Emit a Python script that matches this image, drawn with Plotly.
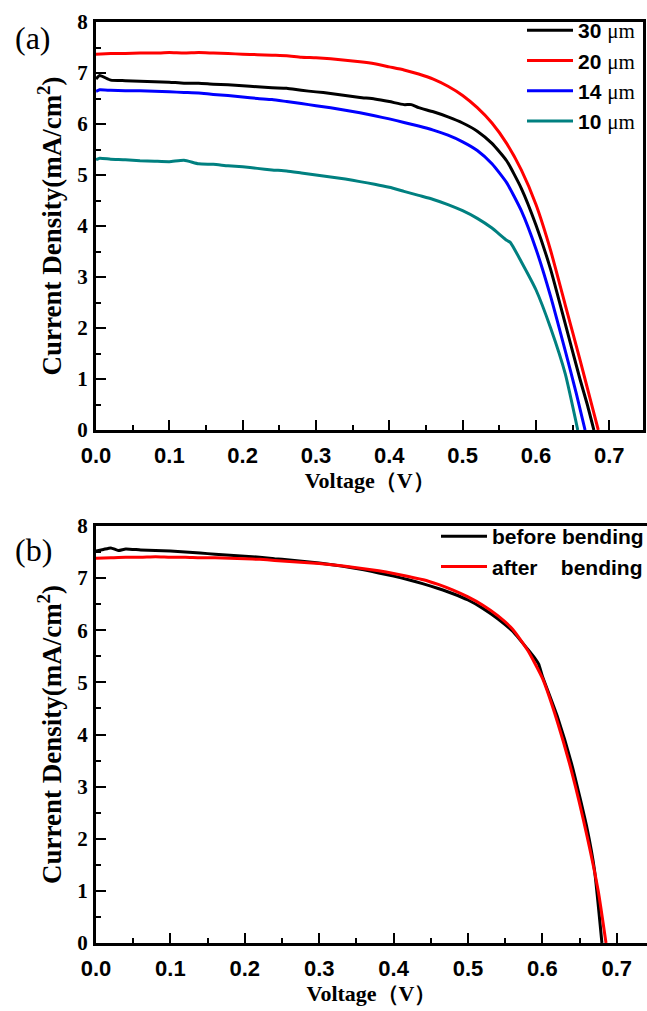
import plotly.graph_objects as go

# ---------------- panel (a): J-V curves for different thicknesses ----------------
v_30um = [0.000, 0.005, 0.02, 0.04, 0.06, 0.08, 0.10, 0.12, 0.14, 0.16, 0.18, 0.20, 0.22, 0.24,
          0.26, 0.28, 0.30, 0.32, 0.34, 0.36, 0.38, 0.40, 0.42, 0.43, 0.44, 0.46, 0.48, 0.50,
          0.52, 0.54, 0.56, 0.58, 0.60, 0.62, 0.64, 0.66, 0.67, 0.679]
j_30um = [6.88, 6.95, 6.86, 6.85, 6.84, 6.83, 6.82, 6.80, 6.80, 6.78, 6.77, 6.75, 6.73, 6.71,
          6.70, 6.66, 6.63, 6.60, 6.56, 6.52, 6.49, 6.44, 6.38, 6.38, 6.32, 6.24, 6.14, 6.02,
          5.86, 5.62, 5.28, 4.74, 4.02, 3.15, 2.08, 1.00, 0.50, 0.00]

v_20um = [0.00, 0.02, 0.04, 0.06, 0.08, 0.10, 0.12, 0.14, 0.16, 0.18, 0.20, 0.22, 0.24, 0.26,
          0.28, 0.30, 0.32, 0.34, 0.36, 0.38, 0.40, 0.42, 0.44, 0.46, 0.48, 0.50, 0.52, 0.54,
          0.56, 0.58, 0.60, 0.62, 0.64, 0.66, 0.675, 0.685]
j_20um = [7.37, 7.38, 7.38, 7.39, 7.39, 7.40, 7.39, 7.40, 7.39, 7.38, 7.37, 7.36, 7.35, 7.34,
          7.31, 7.30, 7.28, 7.25, 7.22, 7.18, 7.12, 7.06, 6.98, 6.88, 6.74, 6.56, 6.32, 6.02,
          5.62, 5.10, 4.42, 3.52, 2.45, 1.38, 0.55, 0.00]

v_14um = [0.000, 0.005, 0.02, 0.04, 0.06, 0.08, 0.10, 0.12, 0.14, 0.16, 0.18, 0.20, 0.22, 0.24,
          0.26, 0.28, 0.30, 0.32, 0.34, 0.36, 0.38, 0.40, 0.42, 0.44, 0.46, 0.48, 0.50, 0.52,
          0.54, 0.56, 0.58, 0.60, 0.62, 0.64, 0.655, 0.667]
j_14um = [6.64, 6.67, 6.66, 6.65, 6.65, 6.64, 6.63, 6.62, 6.61, 6.58, 6.56, 6.53, 6.50, 6.48,
          6.44, 6.40, 6.36, 6.32, 6.27, 6.22, 6.16, 6.10, 6.03, 5.96, 5.88, 5.78, 5.65, 5.48,
          5.22, 4.85, 4.30, 3.55, 2.62, 1.55, 0.72, 0.00]

v_10um = [0.000, 0.005, 0.02, 0.04, 0.06, 0.08, 0.10, 0.12, 0.14, 0.16, 0.18, 0.20, 0.22, 0.24,
          0.26, 0.28, 0.30, 0.32, 0.34, 0.36, 0.38, 0.40, 0.42, 0.44, 0.46, 0.48, 0.50, 0.52,
          0.54, 0.56, 0.565, 0.58, 0.60, 0.62, 0.64, 0.657]
j_10um = [5.30, 5.33, 5.31, 5.30, 5.28, 5.27, 5.26, 5.29, 5.22, 5.21, 5.18, 5.16, 5.13, 5.10,
          5.08, 5.04, 5.00, 4.96, 4.92, 4.87, 4.82, 4.76, 4.68, 4.60, 4.52, 4.42, 4.30, 4.15,
          3.96, 3.72, 3.68, 3.30, 2.75, 2.00, 1.10, 0.00]

# ---------------- panel (b): before / after bending ----------------
v_before = [0.00, 0.01, 0.02, 0.03, 0.04, 0.06, 0.08, 0.10, 0.12, 0.14, 0.16, 0.18, 0.20, 0.22,
            0.24, 0.26, 0.28, 0.30, 0.32, 0.34, 0.36, 0.38, 0.40, 0.42, 0.44, 0.46, 0.48, 0.50,
            0.52, 0.54, 0.56, 0.58, 0.59, 0.595, 0.60, 0.62, 0.64, 0.66, 0.67, 0.68]
j_before = [7.52, 7.55, 7.58, 7.53, 7.56, 7.54, 7.53, 7.52, 7.50, 7.48, 7.46, 7.44, 7.42, 7.40,
            7.37, 7.35, 7.32, 7.29, 7.25, 7.21, 7.16, 7.10, 7.04, 6.97, 6.89, 6.80, 6.70, 6.58,
            6.42, 6.22, 5.98, 5.64, 5.46, 5.35, 5.12, 4.35, 3.40, 2.20, 1.40, 0.00]

v_after = [0.00, 0.02, 0.04, 0.06, 0.08, 0.10, 0.12, 0.14, 0.16, 0.18, 0.20, 0.22, 0.24, 0.26,
           0.28, 0.30, 0.32, 0.34, 0.36, 0.38, 0.40, 0.42, 0.44, 0.46, 0.48, 0.50, 0.52, 0.54,
           0.56, 0.58, 0.60, 0.62, 0.64, 0.66, 0.675, 0.6855]
j_after = [7.38, 7.39, 7.40, 7.40, 7.41, 7.40, 7.40, 7.39, 7.39, 7.38, 7.37, 7.36, 7.34, 7.32,
           7.30, 7.28, 7.25, 7.22, 7.18, 7.14, 7.09, 7.03, 6.97, 6.88, 6.77, 6.64, 6.48, 6.28,
           6.02, 5.62, 5.08, 4.25, 3.25, 2.05, 1.00, 0.00]

x_ticks = [0.0, 0.1, 0.2, 0.3, 0.4, 0.5, 0.6, 0.7]
y_ticks = [0, 1, 2, 3, 4, 5, 6, 7, 8]

SERIF = "Liberation Serif"
SANS = "Liberation Sans"

W, H = 647, 1011
ML, MR, MT, MB = 96, 0, 22, 68
PW, PH = W - ML - MR, H - MT - MB


def px_x(x_px):
    """pixel column -> paper x"""
    return (x_px - ML) / PW


def py(y_px):
    """pixel row -> paper y"""
    return (H - MB - y_px) / PH


def mu(label):
    num, unit = label.split(" ")
    return (f"{num} <span style='font-family:{SERIF};font-weight:normal'>{unit}</span>")


fig = go.Figure()

series_a = [
    ("30 μm", v_30um, j_30um, "#000000"),
    ("20 μm", v_20um, j_20um, "#ff0000"),
    ("14 μm", v_14um, j_14um, "#0000ff"),
    ("10 μm", v_10um, j_10um, "#008080"),
]
for name, v, j, c in series_a:
    fig.add_trace(go.Scatter(
        x=v, y=j, mode="lines", name=mu(name), legend="legend",
        line=dict(color=c, width=3, shape="spline", smoothing=0.5),
        xaxis="x", yaxis="y"))

series_b = [
    ("before bending", v_before, j_before, "#000000"),
    ("after&nbsp;&nbsp;&nbsp;&nbsp;bending", v_after, j_after, "#ff0000"),
]
for name, v, j, c in series_b:
    fig.add_trace(go.Scatter(
        x=v, y=j, mode="lines", name=name, legend="legend2",
        line=dict(color=c, width=3, shape="spline", smoothing=0.5),
        xaxis="x2", yaxis="y2"))

xfont = dict(family=SANS, size=22, color="black", weight="bold")
yfont = dict(family=SERIF, size=21, color="black", weight="bold")
title_font = dict(family=SERIF, size=22, color="black", weight="bold")
ytitle_font = dict(family=SERIF, size=27, color="black", weight="bold")
legend_font = dict(family=SANS, size=21, color="black", weight="bold")

common_x = dict(
    showline=True, linewidth=3, linecolor="black", mirror=True,
    showgrid=False, zeroline=False,
    ticks="inside", ticklen=10, tickwidth=2, tickcolor="black",
    tickvals=x_ticks, tickformat=".1f", tickfont=xfont, ticklabelstandoff=4,
    minor=dict(ticks="inside", ticklen=5, tickwidth=2, tickcolor="black", dtick=0.05, tick0=0),
    title=dict(text="Voltage（V）", font=title_font, standoff=4),
)
common_y = dict(
    showline=True, linewidth=3, linecolor="black",
    showgrid=False, zeroline=False, range=[0, 8],
    ticks="inside", ticklen=10, tickwidth=2, tickcolor="black",
    tickvals=y_ticks, tickfont=yfont, ticklabelstandoff=1,
    minor=dict(ticks="inside", ticklen=5, tickwidth=2, tickcolor="black", dtick=0.5, tick0=0),
    title=dict(text="Current Density(mA/cm<sup>2</sup>)", font=ytitle_font, standoff=8),
)

fig.update_layout(
    width=W, height=H,
    margin=dict(l=ML, r=MR, t=MT, b=MB, autoexpand=False),
    paper_bgcolor="white", plot_bgcolor="white",
    xaxis=dict(common_x, domain=[0, px_x(643.3)], range=[0, 0.7464], anchor="y"),
    yaxis=dict(common_y, domain=[py(430), 1.0], anchor="x", mirror=True),
    xaxis2=dict(common_x, domain=[0, 1.0], range=[0, PW / 744.0], anchor="y2"),
    yaxis2=dict(common_y, domain=[0.0, py(526)], anchor="x2", mirror=False),
    legend=dict(
        x=px_x(522), y=py(10), xanchor="left", yanchor="top",
        bgcolor="rgba(0,0,0,0)", borderwidth=0, itemwidth=46, tracegroupgap=0,
        font=legend_font,
    ),
    legend2=dict(
        x=px_x(436), y=py(516), xanchor="left", yanchor="top",
        bgcolor="rgba(0,0,0,0)", borderwidth=0, itemwidth=46, tracegroupgap=0,
        font=legend_font,
    ),
    showlegend=True,
    annotations=[
        dict(text="(a)", x=px_x(33), y=py(38), xref="paper", yref="paper",
             xanchor="center", yanchor="middle", showarrow=False,
             font=dict(family=SERIF, size=32, color="black")),
        dict(text="(b)", x=px_x(33), y=py(550), xref="paper", yref="paper",
             xanchor="center", yanchor="middle", showarrow=False,
             font=dict(family=SERIF, size=32, color="black")),
    ],
)

fig.write_html("out.html")
